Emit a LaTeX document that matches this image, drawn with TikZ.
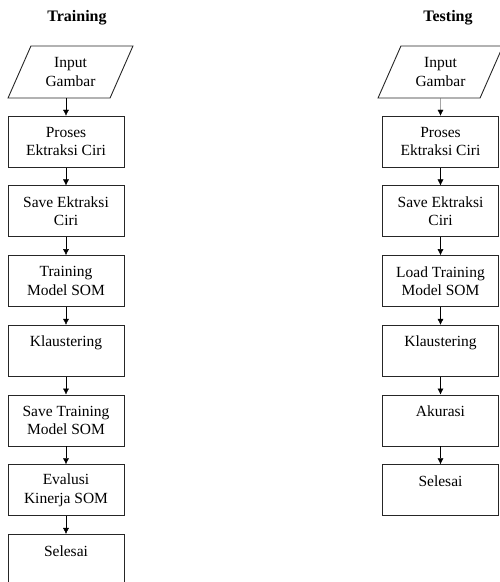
\documentclass[tikz,border=0pt]{standalone}
\usepackage{fontspec}
\setmainfont{Liberation Serif}
\usetikzlibrary{arrows.meta,shapes.geometric}
\tikzset{%
  >={Latex[width=6pt,length=6pt]},
  % Specifications for style of nodes:
     base/.style = {draw=black!85, line width=0.9pt, text centered,
                    font=\fontsize{15.5}{18.5}\selectfont},
  process/.style = {base, rectangle, minimum width=116pt,
                    minimum height=51pt, inner sep=2pt},
       io/.style = {base, trapezium, trapezium left angle=64,
                    trapezium right angle=116, trapezium stretches=true,
                    minimum width=125pt, minimum height=52pt, inner sep=1pt},
    title/.style = {font=\fontsize{16}{19}\selectfont\bfseries},
}

\begin{document}
\begin{tikzpicture}[node distance=69.7pt, align=center]
  \useasboundingbox (0pt,0pt) rectangle (500pt,-582pt);
  % Specification of nodes (position, etc.)
  \node (trainTitle) [title] at (77pt,-18pt) {Training};
  \node (testTitle) [title] at (448pt,-18pt) {Testing};

  % Training
  \node (inputTrain) [io] at (70.5pt,-72pt) {Input\\Gambar};
  \node (featTrain) [process, below of=inputTrain, xshift=-4.5pt] {Proses\\Ektraksi Ciri};
  \node (saveTrain) [process, below of=featTrain] {Save Ektraksi\\Ciri};
  \node (somTrain) [process, below of=saveTrain] {Training\\Model SOM};
  \node (clusTrain) [process, below of=somTrain] {Klaustering\\~};
  \node (saveSomTrain) [process, below of=clusTrain] {Save Training\\Model SOM};
  \node (evalTrain) [process, below of=saveSomTrain] {Evalusi\\Kinerja SOM};
  \node (endTrain) [process, below of=evalTrain] {Selesai\\~};

  % Testing
  \node (inputTest) [io] at (440.5pt,-72pt) {Input\\Gambar};
  \node (featTest) [process, below of=inputTest] {Proses\\Ektraksi Ciri};
  \node (saveTest) [process, below of=featTest] {Save Ektraksi\\Ciri};
  \node (loadTest) [process, below of=saveTest] {Load Training\\Model SOM};
  \node (clusTest) [process, below of=loadTest] {Klaustering\\~};
  \node (accTest) [process, below of=clusTest] {Akurasi\\~};
  \node (endTest) [process, below of=accTest] {Selesai\\~};

  % Specification of lines between nodes specified above
  \draw[->] (featTrain |- inputTrain.south) -- (featTrain);
  \draw[->] (featTrain) -- (saveTrain);
  \draw[->] (saveTrain) -- (somTrain);
  \draw[->] (somTrain) -- (clusTrain);
  \draw[->] (clusTrain) -- (saveSomTrain);
  \draw[->] (saveSomTrain) -- (evalTrain);
  \draw[->] (evalTrain) -- (endTrain);

  \draw[->] (inputTest) -- (featTest);
  \draw[->] (featTest) -- (saveTest);
  \draw[->] (saveTest) -- (loadTest);
  \draw[->] (loadTest) -- (clusTest);
  \draw[->] (clusTest) -- (accTest);
  \draw[->] (accTest) -- (endTest);
\end{tikzpicture}
\end{document}
